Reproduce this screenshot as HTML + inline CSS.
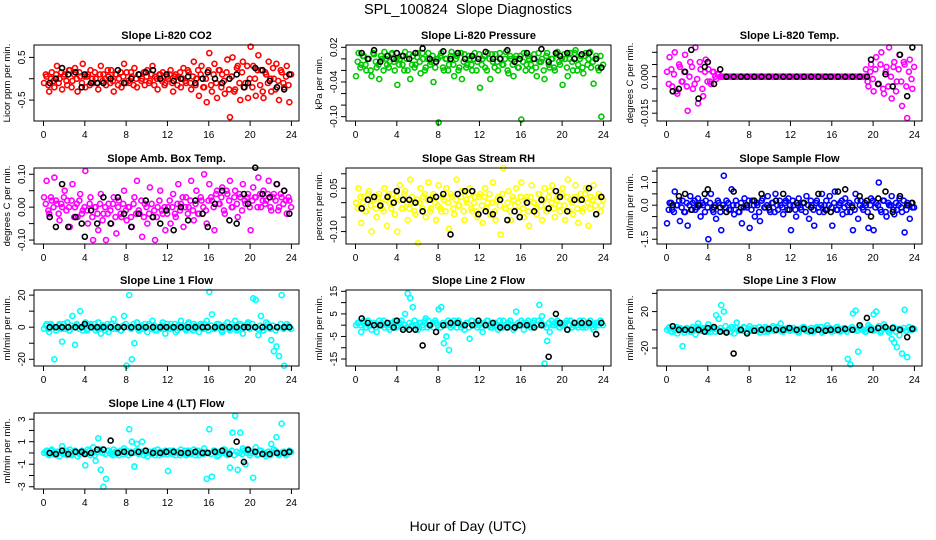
<!DOCTYPE html>
<html><head><meta charset="utf-8"><style>
html,body{margin:0;padding:0;background:#fff;}
svg{display:block;font-family:"Liberation Sans",Arial,sans-serif;}
</style></head><body>
<svg id="chart" width="936" height="540" viewBox="0 0 936 540" xmlns="http://www.w3.org/2000/svg">
<rect width="936" height="540" fill="#fff"/>
<text x="468" y="14" text-anchor="middle" font-size="14.5" style="white-space:pre">SPL_100824  Slope Diagnostics</text>
<text x="468" y="531" text-anchor="middle" font-size="14">Hour of Day (UTC)</text>
</svg>
<script>
// ---- data ----
const xTicks = [0,4,8,12,16,20,24];
const blackHours = [0.6,1.2,1.8,2.4,3.1,3.7,4.0,4.6,5.2,5.8,6.5,7.2,7.8,8.5,9.2,9.9,10.6,11.3,11.9,12.6,13.3,14.0,14.7,15.4,15.9,16.6,17.3,18.0,18.7,19.4,19.8,20.5,21.2,21.9,22.6,23.3,23.8];

const co2 = [-0.1,0.05,-0.3,0.15,-0.2,0.3,0.0,-0.25,0.1,-0.15,0.2,-0.05,0.25,-0.3,0.05,0.35,
-0.2,0.1,0.2,-0.1,0.0,-0.25,0.3,0.1,-0.15,0.05,0.2,-0.3,0.1,0.0,-0.2,0.35,
0.15,-0.1,0.05,0.25,-0.2,0.1,0.0,-0.15,0.2,-0.05,0.3,0.05,-0.25,0.1,0.15,-0.1,
0.0,0.2,-0.3,0.1,0.05,-0.2,0.25,-0.1,0.15,-0.25,0.4,0.0,-0.4,0.3,-0.2,-0.55,
0.6,-0.3,0.35,-0.45,0.2,0.1,-0.35,0.45,-0.9,0.5,-0.25,0.3,-0.5,0.4,-0.1,-0.45,
0.75,0.3,-0.4,0.55,0.2,-0.45,0.1,0.4,-0.3,0.0,0.35,-0.5,0.15,-0.2,0.3,-0.55];
const co2B = [0.1,-0.15,0.0,-0.05,0.1,-0.1,0.15,0.05,-0.05,0.2,-0.2,0.1,0.0,0.15,-0.1,0.05,
0.05,-0.15,0.0,0.15,-0.1,0.1,-0.05,0.0,0.2,-0.1,-0.05,0.1,-0.15,0.15,0.05,-0.1,
-0.05,0.15,-0.15,0.0,0.1,-0.05,0.15,0.05,-0.1,0.1,-0.15,0.0,0.1,-0.05,-0.15,0.05,
0.1,-0.1,0.05,-0.15,0.15,0.0,-0.05,0.2,-0.1,0.05,-0.15,0.2,0.1,-0.2,0.0,0.2,
-0.15,0.1,-0.1,0.2,-0.2,-0.05,0.15,-0.25,0.05,-0.3,0.25,-0.1,0.15,-0.2,0.3,0.0,
-0.2,0.0,0.2,-0.15,-0.3,0.15,-0.1,0.0,0.25,-0.25,-0.05,0.2,-0.1,0.05,-0.15,0.1];
const co2Black = [-0.1,0.0,0.25,0.1,0.15,-0.2,0.1,-0.1,-0.1,-0.1,0.0,0.2,-0.1,0.0,0.1,0.15,0.2,0.0,0.1,-0.05,0.0,0.05,-0.1,0.0,0.15,0.0,-0.1,0.0,0.1,-0.2,-0.1,0.25,0.2,-0.05,-0.2,-0.25,0.1];

const pressure = [-0.03,0.01,-0.01,0.005,-0.02,0.0,-0.03,0.008,-0.015,-0.035,0.0,0.012,-0.01,-0.005,0.01,-0.02,
-0.045,0.0,-0.01,0.012,-0.02,-0.035,0.005,-0.01,0.01,-0.025,0.0,-0.015,0.01,-0.005,-0.04,0.0,
-0.11,0.01,-0.02,0.0,-0.01,0.012,-0.03,0.005,-0.015,-0.035,0.008,-0.01,0.0,-0.02,0.01,-0.005,
-0.05,0.0,-0.015,0.01,-0.035,-0.005,0.008,-0.02,0.0,-0.01,0.012,-0.025,0.0,-0.03,0.005,-0.015,
-0.105,0.01,-0.01,0.0,-0.02,0.008,-0.03,-0.005,0.0,-0.035,0.01,-0.015,0.0,-0.02,0.012,-0.01,
-0.045,0.0,-0.03,0.01,-0.02,0.015,-0.01,0.005,-0.025,0.01,0.0,-0.015,-0.043,0.005,-0.02,-0.1];
const pressureB = [-0.005,-0.015,0.005,-0.01,0.0,-0.02,0.01,-0.005,-0.01,0.005,-0.02,0.0,-0.015,0.008,-0.005,0.0,
-0.01,0.005,-0.02,0.0,0.008,-0.01,-0.015,0.003,-0.005,0.01,-0.02,0.0,-0.01,0.005,-0.015,0.0,
0.005,-0.015,0.0,-0.02,0.005,-0.01,0.0,-0.02,0.01,-0.005,-0.015,0.005,-0.01,0.0,-0.02,0.008,
-0.01,0.005,-0.02,0.0,0.008,-0.015,-0.005,0.01,-0.01,0.0,-0.02,0.005,-0.01,0.0,-0.015,0.005,
-0.005,-0.02,0.005,-0.01,0.0,-0.015,0.01,-0.005,-0.02,0.005,-0.01,0.0,-0.015,0.008,-0.005,0.0,
0.008,-0.015,0.0,-0.005,0.01,-0.02,0.0,-0.015,0.005,-0.01,0.012,-0.005,0.0,-0.015,0.005,-0.01];
const pressureBlack = [0.01,0.0,0.015,-0.005,0.005,0.0,0.01,0.005,0.0,0.01,0.018,0.0,-0.005,0.013,0.0,0.01,0.0,0.005,0.0,0.012,0.0,0.0,0.015,-0.005,0.0,0.01,0.0,0.017,-0.005,0.01,0.005,0.01,0.0,0.008,0.01,0.0,-0.015];

const liTemp = [0.002,0.008,-0.004,0.01,-0.007,0.004,-0.002,0.009,-0.014,0.006,-0.005,0.012,-0.011,0.003,-0.008,0.007,
0.003,-0.003,0.002,-0.001,0.001,0,0,0,0,0,0,0,0,0,0,0,
0,0,0,0,0,0,0,0,0,0,0,0,0,0,0,0,
0,0,0,0,0,0,0,0,0,0,0,0,0,0,0,0,
0,0,0,0,0,0,0,0,0,0,0,0,0,0.003,-0.004,0.005,
-0.006,0.008,-0.003,0.01,-0.007,0.004,0.012,-0.009,0.006,-0.002,0.009,-0.012,0.005,-0.017,0.007,-0.005];
const liTempB = [-0.003,0.003,0.001,-0.006,0.005,-0.002,0.002,-0.004,0.0,0.004,-0.003,-0.001,0.006,-0.005,0.002,-0.002,
-0.002,0.002,0.0,0.001,0,0,0,0,0,0,0,0,0,0,0,0,
0,0,0,0,0,0,0,0,0,0,0,0,0,0,0,0,
0,0,0,0,0,0,0,0,0,0,0,0,0,0,0,0,
0,0,0,0,0,0,0,0,0,0,0,0,0,-0.002,0.002,-0.001,
0.003,-0.003,0.005,-0.005,0.002,-0.004,0.0,0.004,-0.006,0.003,-0.002,0.006,-0.004,0.002,-0.001,0.004];
const liTempBlack = [-0.006,-0.005,0.002,0.011,-0.009,0.004,0.006,-0.003,0.003,0,0,0,0,0,0,0,0,0,0,0,0,0,0,0,0,0,0,0,0,0,0.007,-0.003,0.001,-0.004,0.009,-0.008,0.012];

const ambTemp = [0.03,0.08,-0.02,0.02,0.09,0.01,-0.04,0.0,0.05,0.02,-0.06,0.07,0.0,-0.03,0.04,-0.01,
0.11,-0.05,0.03,-0.1,0.0,-0.07,0.04,-0.02,-0.1,0.01,-0.05,0.03,-0.08,0.02,-0.03,0.05,
-0.04,0.0,-0.06,0.03,0.08,-0.02,-0.09,0.01,-0.05,0.06,-0.03,-0.1,0.0,0.05,-0.02,-0.07,
0.0,-0.05,0.04,-0.03,0.07,0.01,-0.06,0.03,0.0,0.08,-0.04,0.05,-0.02,0.02,0.1,-0.05,
0.07,0.02,-0.07,0.05,0.01,0.06,-0.02,0.04,0.08,0.0,0.05,-0.03,0.03,0.07,0.01,0.04,
-0.07,0.06,0.03,0.09,0.0,0.05,0.02,0.08,-0.01,0.04,0.07,0.0,0.03,0.05,-0.02,0.02];
const ambTempB = [0.01,-0.01,0.03,0.0,0.02,-0.02,0.01,0.03,-0.01,0.0,0.02,-0.03,0.01,0.02,-0.02,0.0,
-0.01,0.01,-0.03,0.0,-0.02,0.01,-0.04,0.0,-0.02,-0.01,0.01,-0.03,0.0,-0.02,0.01,-0.01,
0.0,-0.03,0.01,-0.02,-0.01,0.02,-0.03,0.0,-0.02,0.01,-0.01,-0.03,0.02,-0.01,0.0,-0.02,
0.02,0.0,-0.02,0.01,-0.01,0.03,0.0,-0.02,0.02,-0.01,0.01,-0.02,0.03,0.0,-0.01,0.02,
0.03,0.0,0.04,0.01,0.03,-0.01,0.05,0.02,0.0,0.03,0.01,0.04,-0.01,0.02,0.03,0.0,
0.02,0.03,0.0,0.04,0.02,0.01,0.04,0.0,0.03,0.02,-0.01,0.04,0.01,0.02,0.03,0.0];
const ambTempBlack = [-0.03,-0.06,0.07,-0.06,-0.03,-0.05,-0.09,-0.01,-0.05,0.03,-0.05,0.03,-0.02,-0.06,-0.02,0.02,-0.03,-0.05,-0.01,-0.07,0.0,-0.04,0.02,-0.02,-0.06,0.01,0.05,-0.04,-0.05,0.04,0.01,0.12,0.04,0.03,0.07,0.05,-0.02];

const rh = [0.0,0.05,-0.07,0.02,-0.03,0.04,-0.1,0.01,-0.05,0.03,-0.02,0.05,-0.08,0.0,0.03,-0.04,
-0.1,0.06,-0.02,0.04,-0.06,0.08,0.0,-0.04,-0.14,0.05,0.02,-0.05,0.07,-0.02,0.03,-0.06,
0.06,-0.03,0.01,0.05,-0.09,0.02,-0.04,0.08,-0.01,0.04,-0.06,0.0,0.05,-0.03,0.02,-0.05,
0.03,-0.07,0.05,0.0,-0.04,0.07,-0.06,0.02,-0.11,0.12,-0.02,0.04,-0.06,0.01,0.05,-0.03,
0.07,-0.05,0.02,-0.08,0.06,0.0,-0.04,0.03,-0.06,0.05,-0.02,0.04,0.06,-0.05,0.02,-0.03,
0.05,-0.06,0.08,0.01,-0.04,0.06,-0.07,0.03,-0.02,0.05,-0.08,0.02,0.06,-0.04,0.03,-0.01];
const rhB = [-0.02,0.02,0.0,-0.03,0.03,-0.01,0.01,-0.02,0.02,0.0,-0.03,0.01,0.03,-0.02,0.0,0.02,
0.01,-0.02,0.03,0.0,-0.02,0.02,-0.03,0.01,0.0,-0.02,0.03,0.01,-0.03,0.02,0.0,-0.01,
-0.02,0.02,-0.03,0.0,0.03,-0.02,0.01,-0.01,0.02,-0.03,0.01,0.03,-0.02,0.0,-0.03,0.02,
-0.01,0.02,-0.02,0.03,0.0,-0.03,0.01,-0.01,0.03,-0.02,0.0,-0.03,0.02,-0.01,0.0,0.02,
-0.02,0.01,-0.03,0.02,0.0,-0.02,0.03,-0.01,0.01,-0.03,0.02,0.0,-0.02,0.01,-0.01,0.03,
-0.01,0.02,-0.03,0.0,0.02,-0.02,0.01,-0.03,0.03,0.0,-0.02,0.01,-0.01,0.02,-0.03,0.01];
const rhBlack = [-0.02,0.01,0.02,-0.01,0.02,0.0,0.04,0.01,0.01,0.0,-0.03,0.01,0.02,0.03,-0.11,0.03,0.04,0.04,-0.04,-0.03,-0.04,0.01,-0.06,-0.03,-0.05,0.0,-0.03,0.01,-0.02,0.04,0.02,-0.03,0.01,0.01,0.05,-0.04,0.02];

const sampleFlow = [-0.8,0.1,-0.2,0.6,0.0,-0.7,0.2,-0.3,-0.9,0.4,0.1,-0.2,0.3,-0.5,0.0,0.2,
-1.5,0.5,-0.3,-0.6,0.1,-1.1,1.3,0.2,-0.2,0.7,-0.4,0.0,-0.3,-0.8,0.3,-0.1,
-1.0,0.2,-0.5,0.0,-0.7,0.3,-0.1,0.4,-0.3,0.1,0.5,-0.2,0.0,-0.4,0.2,0.3,
-1.1,0.0,-0.5,0.3,-0.2,0.1,0.4,-0.6,0.0,-0.9,0.2,-0.3,0.5,0.0,-0.2,0.4,
-0.9,0.6,-0.2,0.1,-0.4,0.3,0.0,-0.3,-1.1,0.5,-0.6,0.2,-0.2,0.0,-1.0,0.3,
-1.1,0.1,1.0,-0.3,0.2,-0.5,0.0,0.4,-0.4,-0.2,0.3,-0.3,-1.2,0.1,-0.6,-0.1];
const sampleFlowB = [-0.2,0.1,-0.3,0.0,0.2,-0.1,-0.3,0.1,0.0,-0.2,0.2,-0.1,0.0,0.1,-0.3,-0.1,
0.1,-0.2,0.0,0.2,-0.3,0.0,-0.1,0.1,-0.2,0.0,0.2,-0.3,0.1,-0.1,0.0,0.2,
-0.2,0.0,0.1,-0.3,0.2,-0.1,0.0,-0.2,0.1,-0.3,0.0,0.2,-0.1,0.1,-0.2,0.0,
0.2,-0.2,0.0,-0.1,0.1,-0.3,0.0,0.2,-0.2,0.1,-0.1,0.0,-0.3,0.2,0.0,-0.1,
0.1,-0.2,0.0,0.2,-0.1,-0.3,0.1,0.0,-0.2,0.2,0.0,-0.1,0.1,-0.3,0.0,0.2,
-0.1,0.0,-0.2,0.2,-0.3,0.1,0.0,-0.2,0.1,0.0,-0.1,0.2,-0.2,0.0,0.1,-0.1];
const sampleFlowBlack = [0.0,0.4,0.5,-0.2,0.0,0.5,0.7,-0.1,-0.1,-0.3,0.6,-0.1,0.0,0.2,0.5,-0.1,0.2,0.5,-0.2,0.1,0.1,-0.1,0.5,-0.2,-0.3,0.6,0.7,-0.1,0.4,0.2,-0.5,0.3,0.6,-0.3,0.4,0.0,0.1];

const line1 = [-1,2,-3,1,-20,0,2,-9,-1,3,-2,7,-11,1,10,-2,
3,-1,2,0,-2,3,-4,1,0,-3,2,5,-1,0,-2,7,
-24,20,-20,-10,3,-1,0,2,-3,1,4,-2,0,-1,3,-4,
0,2,-1,-3,1,4,0,-2,3,-1,2,0,-3,1,2,4,
22,8,-1,2,0,-3,1,3,-2,0,4,-1,2,-4,1,3,
0,18,17,-5,7,-2,3,0,-8,-15,-12,-18,20,-24,2,0];
const line1B = [1,-1,2,0,-2,1,-1,2,0,-2,1,0,2,-1,0,1,
-2,1,0,2,-1,0,1,-2,2,0,-1,1,0,-2,1,2,
0,-1,2,0,-2,1,-1,0,2,-1,1,-2,0,1,-1,2,
-1,0,2,-2,0,1,-1,2,0,-2,1,0,2,-1,0,-2,
1,-1,0,2,-2,1,0,-1,2,0,-2,1,-1,0,2,-1,
2,0,-1,1,-2,0,2,-1,1,-2,0,2,-1,0,1,-1];
const line1Black = [0,0,0,0,0,0,2,0,0,0,0,0,0,0,0,0,0,0,0,0,0,0,0,0,0,0,0,0,0,0,0,0,0,0,0,0,0];

const line2 = [0,1,-3,2,-1,0,-2,1,-3,2,0,-1,1,-2,0,2,
0,1,-1,5,14,12,8,0,-2,1,-1,3,2,0,-1,1,
7,8,-8,-5,-11,0,2,-1,1,0,-2,1,-6,2,0,-1,
1,-3,0,2,-1,0,1,-2,0,2,-1,1,0,-2,6,0,
2,-2,1,0,-1,2,0,9,4,-17,-7,-3,0,1,2,-1,
0,1,-2,2,0,1,-1,0,2,-1,1,0,-2,1,0,1];
const line2B = [1,0,1,-1,2,0,1,-1,0,1,2,0,-1,1,0,-1,
1,2,0,-1,1,0,2,-1,1,0,2,-1,0,1,2,0,
-1,1,0,2,-1,0,1,2,-1,0,1,-1,2,0,1,0,
-1,1,2,0,-1,1,0,2,-1,0,1,2,0,-1,1,0,
1,0,2,-1,1,0,2,1,0,-1,1,2,0,1,-1,0,
1,2,0,-1,1,0,2,-1,0,1,2,-1,0,1,2,0];
const line2Black = [3,1,0,0,1,-1,2,-2,-2,-2,-9,0,-3,0,1,1,0,0,2,0,1,-1,-1,-1,0,0,-1,0,-14,5,1,-2,1,1,1,-4,1];

const line3 = [0,3,-2,1,-4,2,-18,0,1,-2,3,-5,7,-1,2,0,
6,-2,1,16,12,27,20,-2,1,3,-4,8,0,-1,2,-3,
4,-1,2,0,-3,1,3,-2,0,4,-1,2,7,-2,1,0,
0,2,-1,-3,1,3,0,-2,2,-1,3,0,-3,1,5,2,
0,-1,3,-2,1,0,-32,-38,18,21,-24,3,0,-2,5,2,
17,20,4,-1,6,2,-3,-10,-14,-19,-6,-26,22,-30,0,2];
const line3B = [2,-2,0,3,-1,1,-3,2,0,-2,1,3,-1,0,2,-2,
1,3,-2,0,2,-1,4,0,-2,1,2,-1,0,3,-2,1,
0,2,-1,3,0,-2,1,0,2,-1,3,0,-2,1,2,-1,
2,0,-2,1,3,-1,0,2,-2,1,0,3,-1,2,0,-2,
1,3,-1,0,2,-2,1,3,0,-1,2,0,-2,1,3,-1,
0,2,-3,1,2,-1,0,3,-2,1,0,2,-1,3,0,1];
const line3Black = [4,0,0,0,0,-2,2,3,-2,-3,-26,0,-4,-1,0,1,0,0,2,0,1,-1,0,-1,0,0,1,0,5,13,0,2,3,2,0,-8,1];

const line4 = [0,0.2,-0.2,0.3,-0.1,0.1,-0.3,0.6,0.0,-0.2,0.3,-0.1,0.2,-0.3,0.0,0.1,
-1.1,0.3,-0.2,0.5,-0.7,1.3,-1.5,-3.0,-2.3,0.2,-0.1,0.3,0.0,-0.2,0.1,0.4,
0.2,2.1,1.0,-1.2,0.8,0.0,1.0,0.2,-0.3,0.1,0.0,-0.2,0.3,0.1,-0.1,0.2,
-1.6,0.0,0.2,-0.2,0.1,0.3,0.0,-0.2,0.2,-0.1,0.3,0.0,-0.2,0.1,0.4,-2.3,
2.1,-2.1,0.2,-0.3,0.1,0.0,0.3,-0.2,-1.3,1.8,3.3,-1.5,1.8,0.4,-1.0,0.2,
0.0,-2.2,0.5,-0.1,0.2,0.0,-0.3,0.1,0.8,0.3,1.4,-0.2,2.6,0.1,-0.1,0.2];
const line4B = [0.1,-0.1,0.2,0.0,-0.2,0.1,0.0,-0.1,0.2,0.1,-0.2,0.0,0.1,-0.1,0.2,0.0,
-0.1,0.2,0.0,-0.2,0.1,0.3,0.0,-0.1,0.2,0.0,-0.2,0.1,0.0,0.2,-0.1,0.0,
-0.2,0.1,0.0,0.2,-0.1,0.1,-0.2,0.0,0.1,-0.1,0.2,0.0,-0.2,0.1,0.0,-0.1,
0.2,-0.1,0.0,0.1,-0.2,0.0,0.2,-0.1,0.1,0.0,-0.2,0.2,0.0,-0.1,0.1,0.0,
-0.1,0.2,0.0,-0.2,0.1,0.3,-0.1,0.0,0.2,-0.2,0.1,0.0,-0.1,0.2,0.0,-0.2,
0.1,0.0,-0.2,0.2,0.0,-0.1,0.1,-0.2,0.0,0.2,-0.1,0.0,0.1,-0.2,0.0,0.1];
const line4Black = [0,-0.1,0.2,-0.1,0.1,0.1,-0.1,0.0,0.3,0.3,1.1,0.0,0.1,0.0,0.1,0.2,0.0,0.0,0.1,0.1,0.0,0.0,0.1,0.0,0.0,0.1,0.2,-0.1,1.0,-0.8,0.3,0.1,-0.1,-0.1,0.0,0.0,0.1];

// ---- layout (not data) ----
const colLeft = [34,346,657], rowTop = [45,168,290,413], boxW = 265, boxH = 76;
const panels = [
 {name:'co2',title:'Slope Li-820 CO2',ylab:'Licor ppm per min.',col:0,row:0,yMin:-0.99,yMax:0.79,ticks:[-0.5,0,0.5],labels:['-0.5','','0.5'],color:'#ff0000',vals:co2,vals2:co2B,blk:co2Black},
 {name:'pressure',title:'Slope Li-820 Pressure',ylab:'kPa per min.',col:1,row:0,yMin:-0.1075,yMax:0.024,ticks:[-0.10,-0.08,-0.06,-0.04,-0.02,0,0.02],labels:['-0.10','','','-0.04','','','0.02'],color:'#00c800',vals:pressure,vals2:pressureB,blk:pressureBlack},
 {name:'li-temp',title:'Slope Li-820 Temp.',ylab:'degrees C per min.',col:2,row:0,yMin:-0.0182,yMax:0.013,ticks:[-0.015,-0.01,-0.005,0,0.005,0.01],labels:['-0.015','','','0.000','',''],color:'#ff00ff',vals:liTemp,vals2:liTempB,blk:liTempBlack},
 {name:'amb-temp',title:'Slope Amb. Box Temp.',ylab:'degrees C per min.',col:0,row:1,yMin:-0.112,yMax:0.119,ticks:[-0.1,-0.05,0,0.05,0.1],labels:['-0.10','','0.00','','0.10'],color:'#ff00ff',vals:ambTemp,vals2:ambTempB,blk:ambTempBlack},
 {name:'rh',title:'Slope Gas Stream RH',ylab:'percent per min.',col:1,row:1,yMin:-0.143,yMax:0.12,ticks:[-0.1,-0.05,0,0.05,0.1],labels:['-0.10','','','0.05',''],color:'#ffff00',vals:rh,vals2:rhB,blk:rhBlack},
 {name:'sample-flow',title:'Slope Sample Flow',ylab:'ml/min per min.',col:2,row:1,yMin:-1.71,yMax:1.64,ticks:[-1.5,-1,-0.5,0,0.5,1,1.5],labels:['-1.5','','','0.0','','1.0',''],color:'#0000ff',vals:sampleFlow,vals2:sampleFlowB,blk:sampleFlowBlack},
 {name:'line1-flow',title:'Slope Line 1 Flow',ylab:'ml/min per min.',col:0,row:2,yMin:-24.2,yMax:23.2,ticks:[-20,-10,0,10,20],labels:['-20','','0','','20'],color:'#00ffff',vals:line1,vals2:line1B,blk:line1Black},
 {name:'line2-flow',title:'Slope Line 2 Flow',ylab:'ml/min per min.',col:1,row:2,yMin:-18.1,yMax:15.6,ticks:[-15,-10,-5,0,5,10,15],labels:['-15','','-5','','5','','15'],color:'#00ffff',vals:line2,vals2:line2B,blk:line2Black},
 {name:'line3-flow',title:'Slope Line 3 Flow',ylab:'ml/min per min.',col:2,row:2,yMin:-39.7,yMax:43.7,ticks:[-20,0,20,40],labels:['-20','','20',''],color:'#00ffff',vals:line3,vals2:line3B,blk:line3Black},
 {name:'line4-flow',title:'Slope Line 4 (LT) Flow',ylab:'ml/min per min.',col:0,row:3,yMin:-3.2,yMax:3.55,ticks:[-3,-2,-1,0,1,2,3],labels:['-3','','-1','','1','','3'],color:'#00ffff',vals:line4,vals2:line4B,blk:line4Black}
];
const NS='http://www.w3.org/2000/svg';
const svg=document.getElementById('chart');
function mk(tag,attrs,parent){const e=document.createElementNS(NS,tag);for(const k in attrs)e.setAttribute(k,attrs[k]);parent.appendChild(e);return e;}

panels.forEach(p=>{
  const L=colLeft[p.col], T=rowTop[p.row];
  const xS=h=>L+9.5+h*10.33;
  const yS=v=>T+boxH-(v-p.yMin)/(p.yMax-p.yMin)*boxH;
  const g=mk('g',{},svg);
  
  
  const t=mk('text',{x:L+boxW/2,y:T-6,'text-anchor':'middle','font-size':11,'font-weight':'bold'},g);
  
  
  t.textContent=p.title;
  const yl=mk('text',{transform:`translate(${L-24},${T+boxH/2}) rotate(-90)`,'text-anchor':'middle','font-size':9.5},g);
  
  
  yl.textContent=p.ylab;
  const pts=mk('g',{fill:'none','stroke-width':1.6,stroke:p.color},g);
  
  
  p.vals2.forEach((v,i)=>{
    const c=mk('circle',{cx:xS(i/4+0.22),cy:yS(v),r:2.5},pts);
    
    
  });
  p.vals.forEach((v,i)=>{
    const c=mk('circle',{cx:xS(i/4+0.05),cy:yS(v),r:2.5},pts);
    
    
  });
  const bk=mk('g',{fill:'none','stroke-width':1.6,stroke:'#000'},g);
  
  
  p.blk.forEach((v,i)=>{
    const c=mk('circle',{cx:xS(blackHours[i]),cy:yS(v),r:2.5},bk);
    
    
  });
  const box=mk('rect',{x:L,y:T,width:boxW,height:boxH,fill:'none',stroke:'#000','stroke-width':1},g);
  
  
  const ya=mk('g',{stroke:'#000','stroke-width':1},g);
  
  
  p.ticks.forEach((tv,i)=>{
    const y=yS(tv);
    mk('line',{x1:L-5,x2:L,y1:y,y2:y},ya);
    if(p.labels[i]){
      const tl=mk('text',{transform:`translate(${L-9},${y}) rotate(-90)`,'text-anchor':'middle','font-size':10,stroke:'none',fill:'#000'},ya);
      
      
      tl.textContent=p.labels[i];
    }
  });
  const xa=mk('g',{stroke:'#000','stroke-width':1},g);
  
  
  xTicks.forEach(h=>{
    const x=xS(h);
    mk('line',{x1:x,x2:x,y1:T+boxH,y2:T+boxH+5},xa);
    const tl=mk('text',{x:x,y:T+boxH+17,'text-anchor':'middle','font-size':10,stroke:'none',fill:'#000'},xa);
    
    
    tl.textContent=h;
  });
});
</script>
</body></html>
